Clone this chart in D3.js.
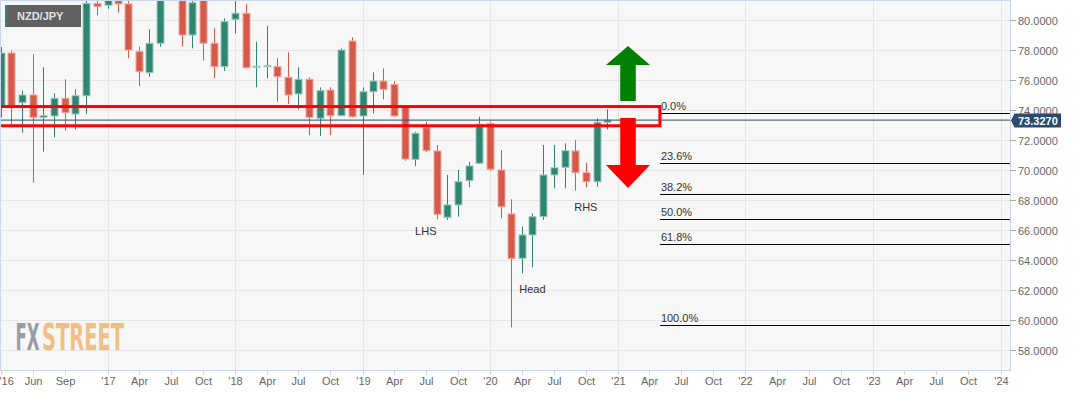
<!DOCTYPE html>
<html>
<head>
<meta charset="utf-8">
<script src="https://cdn.jsdelivr.net/npm/d3@7"></script>
<style>
  html, body { margin: 0; padding: 0; background: #fff; }
  svg { display: block; font-family: "Liberation Sans", Arial, sans-serif; }
</style>
</head>
<body>
<div class="container"></div>
<script>
"use strict";

var width = 1087;
var height = 394;

// Monthly NZD/JPY candles
var months = [
    "2016-03", "2016-04", "2016-05", "2016-06", "2016-07", "2016-08", "2016-09", "2016-10", "2016-11", "2016-12",
    "2017-01", "2017-02", "2017-03", "2017-04", "2017-05", "2017-06", "2017-07", "2017-08", "2017-09", "2017-10", "2017-11", "2017-12",
    "2018-01", "2018-02", "2018-03", "2018-04", "2018-05", "2018-06", "2018-07", "2018-08", "2018-09", "2018-10", "2018-11", "2018-12",
    "2019-01", "2019-02", "2019-03", "2019-04", "2019-05", "2019-06", "2019-07", "2019-08", "2019-09", "2019-10", "2019-11", "2019-12",
    "2020-01", "2020-02", "2020-03", "2020-04", "2020-05", "2020-06", "2020-07", "2020-08", "2020-09", "2020-10", "2020-11", "2020-12"
];
var open = [
    74.22, 77.80, 74.49, 75.00, 73.50, 73.60, 74.78, 73.73, 74.95, 81.11,
    80.98, 82.30, 81.07, 77.89, 76.49, 78.45, 82.30, 83.00, 79.00, 81.30, 78.45, 76.89,
    80.05, 80.45, 76.85, 76.90, 76.89, 76.18, 75.07, 76.05, 73.45, 75.33, 73.62, 78.60,
    73.60, 75.22, 75.93, 75.71, 74.18, 70.71, 72.82, 71.27, 66.85, 67.67, 69.29, 70.45,
    73.11, 70.00, 67.07, 64.11, 65.67, 66.89, 69.67, 70.18, 71.27, 69.82, 69.22, 73.18
];
var high = [
    78.20, 77.95, 75.29, 77.73, 76.85, 75.11, 76.05, 75.38, 81.60, 84.00,
    83.00, 83.00, 81.80, 78.22, 79.38, 82.50, 84.00, 83.20, 81.70, 81.60, 79.44, 80.11,
    81.30, 81.07, 78.55, 79.60, 77.45, 77.85, 76.85, 76.18, 75.51, 75.51, 78.11, 78.85,
    75.51, 76.51, 76.78, 75.93, 74.20, 72.55, 73.22, 71.67, 69.67, 70.00, 70.55, 73.55,
    73.22, 71.33, 68.05, 66.22, 67.11, 71.67, 71.67, 71.78, 72.00, 70.49, 73.45, 74.05
];
var low = [
    73.50, 72.87, 72.49, 69.15, 71.22, 72.18, 72.62, 72.71, 73.73, 80.31,
    80.75, 80.49, 77.45, 75.60, 76.22, 78.22, 81.50, 78.22, 78.11, 77.29, 76.11, 76.60,
    79.11, 76.77, 75.51, 76.11, 74.55, 74.40, 74.05, 72.33, 72.27, 72.33, 73.60, 73.50,
    69.67, 73.78, 74.71, 73.55, 70.62, 70.27, 71.20, 66.71, 66.67, 66.89, 68.85, 70.40,
    69.95, 66.78, 59.51, 63.11, 63.51, 66.67, 68.78, 68.78, 68.62, 68.85, 68.89, 72.71
];
var close = [
    77.80, 74.27, 75.00, 73.51, 73.62, 74.78, 73.82, 74.95, 81.11, 80.89,
    82.30, 81.07, 78.00, 76.55, 78.45, 82.30, 83.00, 79.00, 81.15, 78.45, 76.89, 79.89,
    80.45, 76.82, 76.92, 76.95, 76.22, 75.00, 76.05, 73.51, 75.29, 73.62, 78.00, 73.55,
    75.22, 75.93, 75.38, 73.60, 70.73, 72.45, 71.29, 67.05, 67.67, 69.22, 70.27, 73.05,
    70.05, 67.55, 64.11, 65.67, 66.89, 69.67, 70.15, 71.29, 69.82, 69.22, 73.18, 73.327
];

var lastPrice = 73.327;

// Fibonacci retracement (Mar 2020 low up to the 0% level)
var fibHigh = 73.78;
var fibLow = 59.65;
var fibLevels = [0, 23.6, 38.2, 50.0, 61.8, 100.0];
var fibStart = "2021-05-01";

// resistance zone box
var zoneTop = 74.23;
var zoneBottom = 72.95;
var zoneEnd = "2021-05-01";

// arrows
var arrowDate = "2021-02-01";
var upArrow = { from: 74.6, to: 78.27 };
var downArrow = { from: 73.47, to: 68.8 };

var patternLabels = [
    { month: "2019-07", value: 65.93, text: "LHS" },
    { month: "2020-05", value: 62.07, text: "Head" },
    { month: "2020-10", value: 67.53, text: "RHS" }
];

var yTicks = [58, 60, 62, 64, 66, 68, 70, 72, 74, 76, 78, 80];
var xTickMonths = [
    "2016-03", "2016-06", "2016-09",
    "2017-01", "2017-04", "2017-07", "2017-10",
    "2018-01", "2018-04", "2018-07", "2018-10",
    "2019-01", "2019-04", "2019-07", "2019-10",
    "2020-01", "2020-04", "2020-07", "2020-10",
    "2021-01", "2021-04", "2021-07", "2021-10",
    "2022-01", "2022-04", "2022-07", "2022-10",
    "2023-01", "2023-04", "2023-07", "2023-10",
    "2024-01"
];
var xTickLabels = [
    "'16", "Jun", "Sep",
    "'17", "Apr", "Jul", "Oct",
    "'18", "Apr", "Jul", "Oct",
    "'19", "Apr", "Jul", "Oct",
    "'20", "Apr", "Jul", "Oct",
    "'21", "Apr", "Jul", "Oct",
    "'22", "Apr", "Jul", "Oct",
    "'23", "Apr", "Jul", "Oct",
    "'24"
];

var parseMonth = d3.utcParse("%Y-%m");
var parseDay = d3.utcParse("%Y-%m-%d");

var plotW = 1010;
var plotH = 370;

var x = d3.scaleUtc()
    .domain([Date.UTC(2016, 0, 1), Date.UTC(2024, 0, 1)])
    .range([-20.3, 1000.5]);

var y = d3.scaleLinear()
    .domain([60, 74])
    .range([320, 110]);

var green = "#2f8670";
var red = "#d65a4a";

var candles = months.map(function(m, i) {
    return { date: parseMonth(m), o: open[i], h: high[i], l: low[i], c: close[i] };
});

var svg = d3.select(".container").append("svg")
    .attr("width", width)
    .attr("height", height);

svg.append("defs").append("clipPath")
    .attr("id", "plot-clip")
    .append("rect")
    .attr("x", 0).attr("y", 0)
    .attr("width", plotW).attr("height", plotH);

// plot background
svg.append("rect")
    .attr("x", 0).attr("y", 0)
    .attr("width", plotW).attr("height", plotH)
    .attr("fill", "#f7f7f7");

// gridlines
svg.append("g").selectAll("line")
    .data(yTicks)
    .enter().append("line")
    .attr("x1", 0).attr("x2", plotW)
    .attr("y1", function(d) { return Math.round(y(d)) + 0.5; })
    .attr("y2", function(d) { return Math.round(y(d)) + 0.5; })
    .attr("stroke", "#e6e6e6");

var yearTicks = xTickMonths.filter(function(m, i) { return xTickLabels[i].charAt(0) === "'" && i > 0; });
svg.append("g").selectAll("line")
    .data(yearTicks)
    .enter().append("line")
    .attr("x1", function(d) { return Math.round(x(parseMonth(d))) + 0.5; })
    .attr("x2", function(d) { return Math.round(x(parseMonth(d))) + 0.5; })
    .attr("y1", 0).attr("y2", plotH)
    .attr("stroke", "#e6e6e6");

// FXStreet watermark: squeeze each word horizontally to its width in the logo
function logoWord(text, left, targetWidth, colour) {
    var t = svg.append("text")
        .attr("font-family", "'Liberation Sans Narrow', 'DejaVu Sans Condensed', sans-serif")
        .attr("font-weight", "bold")
        .attr("font-size", 37)
        .attr("fill", colour)
        .text(text);
    var natural = t.node().getComputedTextLength() || targetWidth;
    t.attr("transform", "translate(" + left + ",350) scale(" + (targetWidth / natural) + ",1)");
}
logoWord("FX", 15.5, 24, "#9a9ca4");
logoWord("STREET", 42, 82, "#f0bf84");

var plot = svg.append("g").attr("clip-path", "url(#plot-clip)");

// candles
var candle = plot.append("g").selectAll("g")
    .data(candles)
    .enter().append("g")
    .attr("transform", function(d) { return "translate(" + Math.round(x(d.date)) + ",0)"; });

candle.append("line")
    .attr("x1", 0.5).attr("x2", 0.5)
    .attr("y1", function(d) { return y(d.h); })
    .attr("y2", function(d) { return y(d.l); })
    .attr("stroke", function(d) { return d.c >= d.o ? green : red; })
    .attr("stroke-width", 1);

candle.append("rect")
    .attr("x", -3)
    .attr("width", 7)
    .attr("y", function(d) { return y(Math.max(d.o, d.c)); })
    .attr("height", function(d) { return Math.max(1, Math.abs(y(d.o) - y(d.c))); })
    .attr("fill", function(d) { return d.c >= d.o ? green : red; })
    .attr("stroke", function(d) { return d.c >= d.o ? "#9cc7bb" : "#eda79e"; })
    .attr("stroke-width", 1);

// last price line
plot.append("line")
    .attr("x1", 0).attr("x2", plotW)
    .attr("y1", y(lastPrice)).attr("y2", y(lastPrice))
    .attr("stroke", "#2b4a6d")
    .attr("stroke-width", 1);

// fibonacci levels
var fibX = x(parseDay(fibStart));
var fib = plot.append("g").selectAll("g")
    .data(fibLevels)
    .enter().append("g");
fib.append("line")
    .attr("x1", fibX).attr("x2", plotW)
    .attr("y1", function(d) { return Math.round(y(fibHigh - (fibHigh - fibLow) * d / 100)) + 0.5; })
    .attr("y2", function(d) { return Math.round(y(fibHigh - (fibHigh - fibLow) * d / 100)) + 0.5; })
    .attr("stroke", "#000")
    .attr("stroke-width", 1.2);
fib.append("text")
    .attr("x", fibX + 1)
    .attr("y", function(d) { return y(fibHigh - (fibHigh - fibLow) * d / 100) - 3; })
    .attr("font-size", 11)
    .attr("fill", "#333")
    .text(function(d) { return d.toFixed(1) + "%"; });

// resistance zone
plot.append("rect")
    .attr("x", -10)
    .attr("y", y(zoneTop))
    .attr("width", x(parseDay(zoneEnd)) + 10)
    .attr("height", y(zoneBottom) - y(zoneTop))
    .attr("fill", "none")
    .attr("stroke", "#ff0000")
    .attr("stroke-width", 3);

// arrows
function arrowPath(cx, y0, y1, shaftHalf, headHalf, headLen) {
    var dir = y1 < y0 ? 1 : -1;
    var yb = y1 + dir * headLen;
    return "M" + (cx - shaftHalf) + "," + y0 +
        "L" + (cx - shaftHalf) + "," + yb +
        "L" + (cx - headHalf) + "," + yb +
        "L" + cx + "," + y1 +
        "L" + (cx + headHalf) + "," + yb +
        "L" + (cx + shaftHalf) + "," + yb +
        "L" + (cx + shaftHalf) + "," + y0 + "Z";
}
var ax = x(parseDay(arrowDate)) - 0.8;
plot.append("path")
    .attr("d", arrowPath(ax, y(upArrow.from), y(upArrow.to), 7.8, 22, 19))
    .attr("fill", "#008000");
plot.append("path")
    .attr("d", arrowPath(ax, y(downArrow.from), y(downArrow.to), 7.8, 22, 23))
    .attr("fill", "#ff0000");

// head & shoulders labels
plot.append("g").selectAll("text")
    .data(patternLabels)
    .enter().append("text")
    .attr("x", function(d) { return x(parseMonth(d.month)); })
    .attr("y", function(d) { return y(d.value) + 4; })
    .attr("text-anchor", "middle")
    .attr("font-size", 11)
    .attr("fill", "#333")
    .text(function(d) { return d.text; });

// plot border
svg.append("path")
    .attr("d", "M0.5," + plotH + "V0.5H" + (plotW + 0.5) + "V" + plotH)
    .attr("fill", "none")
    .attr("stroke", "#ccd6eb");

// x axis
svg.append("line")
    .attr("x1", 0).attr("x2", plotW + 1)
    .attr("y1", plotH + 0.5).attr("y2", plotH + 0.5)
    .attr("stroke", "#ccd6eb");

var xt = svg.append("g").selectAll("g")
    .data(xTickMonths)
    .enter().append("g")
    .attr("transform", function(d) { return "translate(" + (Math.round(x(parseMonth(d))) + 0.5) + "," + plotH + ")"; });
xt.append("line")
    .attr("y1", 0).attr("y2", 5)
    .attr("stroke", "#ccd6eb");
xt.append("text")
    .attr("y", 15)
    .attr("x", function(d, i) { return i === 0 ? -2 : 0; })
    .attr("text-anchor", function(d, i) { return i === 0 ? "start" : "middle"; })
    .attr("font-size", 11)
    .attr("fill", "#666")
    .text(function(d, i) { return xTickLabels[i]; });

// y axis (right)
var yt = svg.append("g").selectAll("g")
    .data(yTicks)
    .enter().append("g")
    .attr("transform", function(d) { return "translate(" + plotW + "," + (Math.round(y(d)) + 0.5) + ")"; });
yt.append("line")
    .attr("x1", 0).attr("x2", 6)
    .attr("stroke", "#aaa");
yt.append("text")
    .attr("x", 8).attr("y", 4)
    .attr("font-size", 11)
    .attr("fill", "#666")
    .text(function(d) { return d3.format(".4f")(d); });

// last price badge
var py = y(lastPrice) + 0.5;
svg.append("path")
    .attr("d", "M1011," + py + "L1014.5," + (py - 7) + "H1061V" + (py + 7) + "H1014.5Z")
    .attr("fill", "#2b4a6d");
svg.append("text")
    .attr("x", 1018).attr("y", py + 4)
    .attr("font-size", 11)
    .attr("font-weight", "bold")
    .attr("fill", "#fff")
    .text(d3.format(".4f")(lastPrice));

// symbol label
svg.append("rect")
    .attr("x", 5).attr("y", 5)
    .attr("width", 76).attr("height", 22)
    .attr("fill", "#606060");
svg.append("rect")
    .attr("x", 5).attr("y", 5)
    .attr("width", 2.5).attr("height", 22)
    .attr("fill", green);
svg.append("text")
    .attr("x", 17).attr("y", 20)
    .attr("font-size", 11)
    .attr("font-weight", "bold")
    .attr("fill", "#e2e2e2")
    .text("NZD/JPY");
</script>
</body>
</html>
